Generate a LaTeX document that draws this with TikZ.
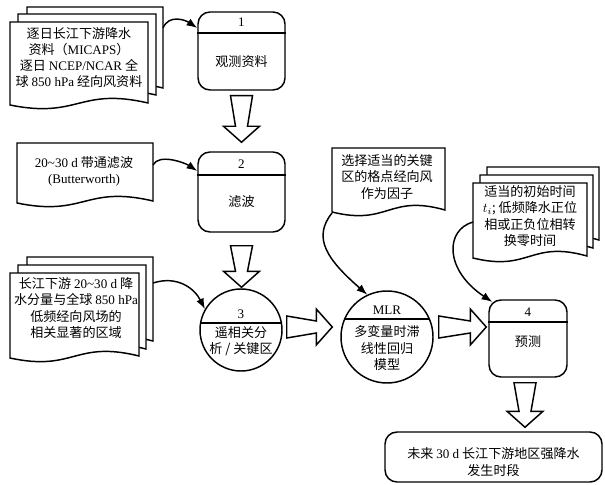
\documentclass[tikz,border=0pt]{standalone}
\usepackage{fontspec}
\setmainfont{Liberation Serif}
\newfontfamily\cjk{Noto Sans CJK SC}
\usetikzlibrary{arrows.meta,calc}
\newcommand{\latin}[1]{{\rmfamily #1}}
% one sheet of a document symbol, wavy lower edge
\newcommand{\docpage}[4]{%
  \draw[page] (#1,#2) -- (#3,#2) -- (#3,#4)
    .. controls ({0.5*(#1+#3)},{#4-16}) and ({0.5*(#1+#3)},{#4+16}) .. (#1,{#4+2}) -- cycle;}
% hollow block arrows
\newcommand{\fatdown}[2]{%
  \draw[fat] let \p1=(#1), \p2=(#2) in
    (\x1-8.25pt,\y1) -- (\x1-4.5pt,\y2+12pt) -- (\x1-13.5pt,\y2+12pt) -- (\x1,\y2)
    -- (\x1+13.5pt,\y2+12pt) -- (\x1+4.5pt,\y2+12pt) -- (\x1+8.25pt,\y1) -- cycle;}
\newcommand{\fatright}[2]{%
  \draw[fat] let \p1=(#1), \p2=(#2) in
    (\x1,\y1+8.25pt) -- (\x2-12pt,\y1+4.5pt) -- (\x2-12pt,\y1+13.5pt) -- (\x2,\y1)
    -- (\x2-12pt,\y1-13.5pt) -- (\x2-12pt,\y1-4.5pt) -- (\x1,\y1-8.25pt) -- cycle;}
\begin{document}
\begin{tikzpicture}[x=0.75pt,y=-0.75pt,>={Latex[length=8pt,width=6pt]},line width=1.1pt,
    page/.style={draw,fill=white},
    fat/.style={draw,fill=white},
    proc/.style={draw,rounded corners=9pt},
    lbl/.style={font=\cjk\fontsize{9.8}{12.2}\selectfont,align=center,inner sep=0pt}]
  \useasboundingbox (0,0) rectangle (605,484);
  % input documents
  \docpage{27}{7}{163}{88}
  \docpage{18}{14}{156}{95}
  \docpage{10}{22}{148}{103}
  \node[lbl] (obs) at (79,57.5) {逐日长江下游降水\\资料（\latin{MICAPS}）\\逐日 \latin{NCEP/NCAR} 全\\球 \latin{850 hPa} 经向风资料};
  \coordinate (obsout) at (163,28);
  \docpage{17}{143}{153}{201}
  \node[lbl] (band) at (84,171.5) {\latin{20\textasciitilde30 d} 带通滤波\\\latin{(Butterworth)}};
  \coordinate (bandout) at (153,165);
  \docpage{27}{257}{153}{341}
  \docpage{18}{265}{146}{349}
  \docpage{10}{273}{139}{356}
  \node[lbl] (corr) at (76,308) {长江下游 \latin{20\textasciitilde30 d} 降\\水分量与全球 \latin{850 hPa}\\低频经向风场的\\相关显著的区域};
  \coordinate (corrout) at (153,283);
  \docpage{332}{148}{445}{210}
  \node[lbl] (fac) at (387,177) {选择适当的关键\\区的格点经向风\\作为因子};
  \coordinate (facout) at (332,213);
  \docpage{487}{167}{599}{240}
  \docpage{480}{175}{593}{248}
  \docpage{473}{183}{587}{256}
  \node[lbl] (tim) at (530,216) {适当的初始时间\\$t_i$; 低频降水正位\\相或正负位相转\\换零时间};
  \coordinate (timout) at (473,222);
  % processes
  \node[proc,minimum width=65.25pt,minimum height=58.5pt] (b1) at (241.5,51) {};
  \node[lbl] (b1n) at (241.5,22.5) {\latin{1}};
  \draw (b1.west |- 0,33) -- (b1.east |- 0,33);
  \node[lbl] (b1t) at (241.5,62) {观测资料};
  \node[proc,minimum width=65.25pt,minimum height=60pt] (b2) at (241.5,192) {};
  \node[lbl] (b2n) at (241.5,164) {\latin{2}};
  \draw (b2.west |- 0,175) -- (b2.east |- 0,175);
  \node[lbl] (b2t) at (241.5,202) {滤波};
  \node[draw,circle,minimum size=61.5pt,inner sep=0pt] (c3) at (241,330) {};
  \node[lbl] (c3n) at (241,314) {\latin{3}};
  \draw ($(c3)+(-40.4,-7)$) -- ($(c3)+(40.4,-7)$);
  \node[lbl] (c3t) at (241,341.5) {遥相关分\\析 / 关键区};
  \node[draw,circle,minimum size=69pt,inner sep=0pt] (mlr) at (387,337) {};
  \node[lbl] (mlrn) at (387,310) {\latin{MLR}};
  \draw ($(mlr)+(-42.3,-18)$) -- ($(mlr)+(42.3,-18)$);
  \node[lbl] (mlrt) at (387,348) {多变量时滞\\线性回归\\模型};
  \node[proc,minimum width=58.5pt,minimum height=57.75pt] (b4) at (528,338.5) {};
  \node[lbl] (b4n) at (528,312) {\latin{4}};
  \draw (b4.west |- 0,322) -- (b4.east |- 0,322);
  \node[lbl] (b4t) at (528,342) {预测};
  \node[proc,minimum width=162.75pt,minimum height=37.5pt] (out) at (493.5,457) {};
  \node[lbl] (outt) at (493.5,462) {未来 \latin{30 d} 长江下游地区强降水\\发生时段};
  % main flow
  \fatdown{[yshift=-3.75pt]b1.south}{[yshift=6.75pt]b2.north}
  \fatdown{[yshift=-9.75pt]b2.south}{[yshift=0.75pt]c3.north}
  \fatright{[shift={(3pt,2.25pt)}]c3.east}{[shift={(-6pt,7.5pt)}]mlr.west}
  \fatright{[shift={(3.75pt,7.5pt)}]mlr.east}{[xshift=-1.5pt]b4.west}
  \fatdown{[shift={(-2.25pt,-3.75pt)}]b4.south}{[yshift=3pt]out.north}
  % data links
  \draw[->] (obsout) .. controls +(6,-14) and +(-12,-8) .. (b1.west |- 0,28);
  \draw[->] (bandout) .. controls +(6,-12) and +(-12,-8) .. (b2.west |- 0,171);
  \draw[->] (corrout) .. controls +(25,-8) and +(-10,-20) .. (c3.150);
  \draw[->] (facout) .. controls +(-20,25) and +(-40,-35) .. (mlr.115);
  \draw[->] (timout) .. controls +(-28,8) and +(-48,-32) .. ([shift={(3pt,-2pt)}]b4.north west);
\end{tikzpicture}
\end{document}
